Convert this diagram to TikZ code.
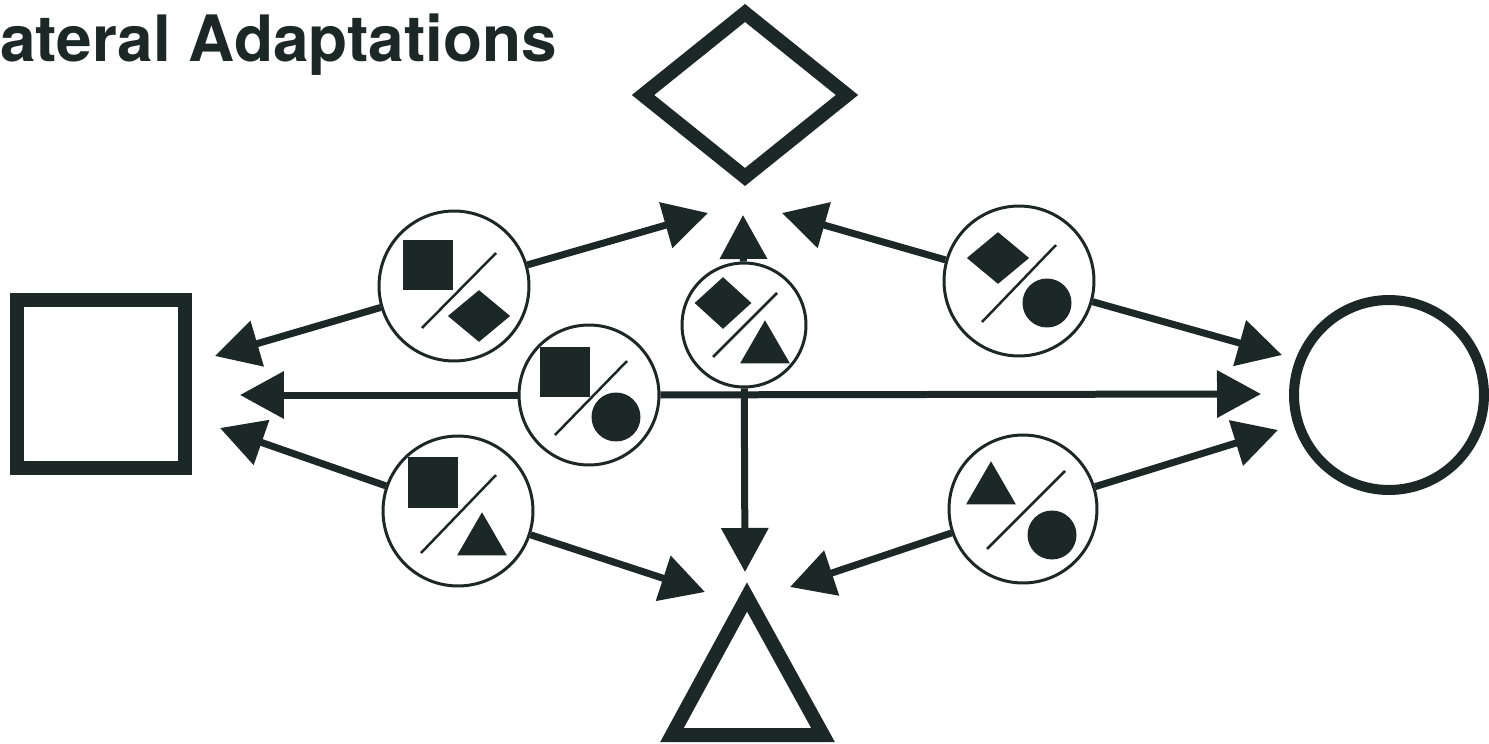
\documentclass[tikz,border=0pt]{standalone}
\usepackage{fontspec}
\setmainfont{TeX Gyre Heros}
\usetikzlibrary{arrows.meta,shapes.geometric}
\definecolor{ink}{RGB}{28,40,37}
\tikzset{
  bigshape/.style={draw=ink,line width=0.28cm,inner sep=0,outer sep=0},
  pairnode/.style={draw=ink,circle,line width=0.06cm,inner sep=0,minimum size=3cm},
  symsq/.style={fill=ink,inner sep=0,minimum size=1.02cm},
  symdm/.style={fill=ink,diamond,inner sep=0,minimum width=1.25cm,minimum height=1.04cm},
  symci/.style={fill=ink,circle,inner sep=0,minimum size=0.98cm},
  symtr/.style={fill=ink,regular polygon,regular polygon sides=3,inner sep=0,minimum size=1.15cm},
  slash/.style={draw=ink,line width=0.05cm},
  link/.style={draw=ink,line width=0.14cm,-{Triangle[length=0.88cm,width=0.92cm]}}
}

\begin{document}
\begin{tikzpicture}[x=0.02cm,y=-0.02cm]
 \useasboundingbox (0,0) rectangle (1489,744);
 \node[anchor=base west,inner sep=0,text=ink,font=\fontsize{36.4}{40}\selectfont\bfseries] (title) at (0,61) {ateral Adaptations};

 % the four forms
 \node[bigshape,minimum width=3.36cm,minimum height=3.38cm] (sq) at (101,384) {};
 \node[bigshape,diamond,minimum width=4.08cm,minimum height=3.28cm] (dm) at (745,95) {};
 \node[bigshape,circle,line width=0.2cm,minimum size=3.8cm] (ci) at (1389,395) {};
 \coordinate (tr1) at (747,597);
 \coordinate (tr2) at (823,735);
 \coordinate (tr3) at (672,735);
 \draw[bigshape] (tr1) -- (tr2) -- (tr3) -- cycle;

 % pairs
 \node[pairnode] (sqdm) at (454,286) {};
 \node[pairnode,minimum size=2.8cm] (sqci) at (589,395) {};
 \node[pairnode] (sqtr) at (458,511) {};
 \node[pairnode,minimum size=2.48cm] (dmtr) at (744,325) {};
 \node[pairnode] (dmci) at (1019,281) {};
 \node[pairnode,minimum size=2.96cm] (trci) at (1023,509) {};

 \node[symsq] (sqdm-a) at ([shift={(-26,-21)}]sqdm.center) {};
 \node[symdm] (sqdm-b) at ([shift={(25,30)}]sqdm.center) {};
 \draw[slash] ([shift={(-32,42)}]sqdm.center) -- ([shift={(42,-33)}]sqdm.center);

 \node[symsq] (sqci-a) at ([shift={(-24,-23)}]sqci.center) {};
 \node[symci] (sqci-b) at ([shift={(27,22)}]sqci.center) {};
 \draw[slash] ([shift={(-34,40)}]sqci.center) -- ([shift={(38,-34)}]sqci.center);

 \node[symsq] (sqtr-a) at ([shift={(-25,-29)}]sqtr.center) {};
 \node[symtr] (sqtr-b) at ([shift={(24,30)}]sqtr.center) {};
 \draw[slash] ([shift={(-37,42)}]sqtr.center) -- ([shift={(38,-36)}]sqtr.center);

 \node[symdm,minimum width=1.14cm] (dmtr-a) at ([shift={(-21,-22)}]dmtr.center) {};
 \node[symtr] (dmtr-b) at ([shift={(21,24)}]dmtr.center) {};
 \draw[slash] ([shift={(-31,32)}]dmtr.center) -- ([shift={(33,-32)}]dmtr.center);

 \node[symdm] (dmci-a) at ([shift={(-21,-23)}]dmci.center) {};
 \node[symci] (dmci-b) at ([shift={(28,22)}]dmci.center) {};
 \draw[slash] ([shift={(-37,41)}]dmci.center) -- ([shift={(37,-36)}]dmci.center);

 \node[symtr] (trci-a) at ([shift={(-32,-19)}]trci.center) {};
 \node[symci] (trci-b) at ([shift={(29,26)}]trci.center) {};
 \draw[slash] ([shift={(-36,40)}]trci.center) -- ([shift={(42,-38)}]trci.center);

 % arrow tips
 \coordinate (sq-a) at (215,356);
 \coordinate (sq-b) at (240,395);
 \coordinate (sq-c) at (220,428);
 \coordinate (dm-a) at (708,213);
 \coordinate (dm-b) at (743,215);
 \coordinate (dm-c) at (782,213);
 \coordinate (ci-a) at (1282,355);
 \coordinate (ci-b) at (1261,394);
 \coordinate (ci-c) at (1278,430);
 \coordinate (tr-a) at (705,592);
 \coordinate (tr-b) at (745,572);
 \coordinate (tr-c) at (790,587);

 \draw[link] (sqdm) -- (sq-a);
 \draw[link] (sqdm) -- (dm-a);
 \draw[link] (sqci) -- (sq-b);
 \draw[link] (sqci) -- (ci-b);
 \draw[link] (sqtr) -- (sq-c);
 \draw[link] (sqtr) -- (tr-a);
 \draw[link] (dmtr) -- (dm-b);
 \draw[link] (dmtr) -- (tr-b);
 \draw[link] (dmci) -- (dm-c);
 \draw[link] (dmci) -- (ci-a);
 \draw[link] (trci) -- (tr-c);
 \draw[link] (trci) -- (ci-c);
\end{tikzpicture}
\end{document}
